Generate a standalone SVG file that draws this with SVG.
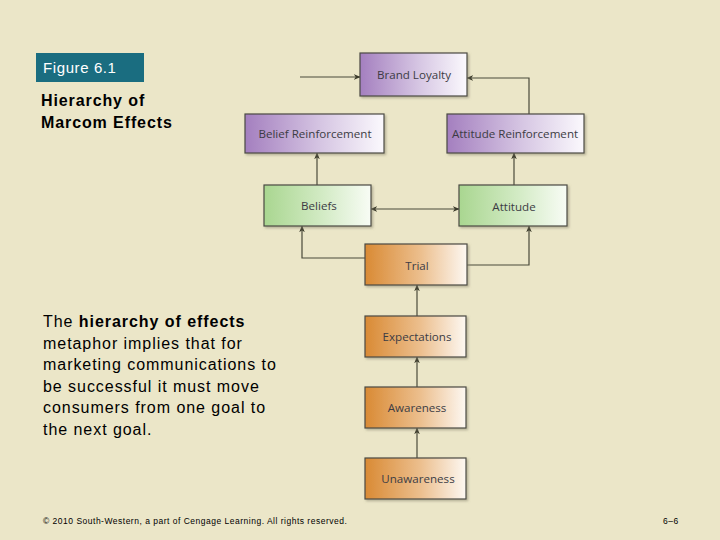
<svg xmlns="http://www.w3.org/2000/svg" width="720" height="540" viewBox="0 0 720 540">
<style>
.bx{stroke:#4a4a44;stroke-width:1.2}
.lb{font-family:"Open Sans","DejaVu Sans",sans-serif;font-size:11.6px;fill:#3c3c44;text-anchor:middle}
.ln{fill:none;stroke:#4a4a3a;stroke-width:1.2}
.t{font-family:"Liberation Sans",Arial,sans-serif;fill:#000}
</style>
<defs>
<linearGradient id="gp" x1="0" x2="1" y1="0" y2="0"><stop offset="0" stop-color="#a47fbf"/><stop offset="0.55" stop-color="#d6c6e3"/><stop offset="1" stop-color="#fbf9fd"/></linearGradient>
<linearGradient id="gg" x1="0" x2="1" y1="0" y2="0"><stop offset="0" stop-color="#a9d690"/><stop offset="0.55" stop-color="#d3ebc5"/><stop offset="1" stop-color="#f8fcf5"/></linearGradient>
<linearGradient id="go" x1="0" x2="1" y1="0" y2="0"><stop offset="0" stop-color="#d98a34"/><stop offset="0.55" stop-color="#ecbf8e"/><stop offset="1" stop-color="#fdf8f2"/></linearGradient>
<filter id="sh" x="-10%" y="-10%" width="130%" height="140%"><feDropShadow dx="1.5" dy="1.5" stdDeviation="1" flood-color="#8a8670" flood-opacity="0.6"/></filter>
<marker id="ar" viewBox="0 0 10 10" refX="9" refY="5" markerWidth="7" markerHeight="7" orient="auto-start-reverse" markerUnits="userSpaceOnUse"><path d="M0,1 L10,5 L0,9 L3,5 Z" fill="#3a3a2a"/></marker>
</defs>
<rect width="720" height="540" fill="#ebe6c8"/>
<g id="title">
<rect x="36" y="53" width="108" height="29" fill="#1a6d80"/>
<text class="t" x="43" y="73" font-size="15" letter-spacing="0.6" style="fill:#fff">Figure 6.1</text>
<text class="t" x="41" y="106" font-size="16" font-weight="bold" letter-spacing="0.9">Hierarchy of</text>
<text class="t" x="41" y="128" font-size="16" font-weight="bold" letter-spacing="0.9">Marcom Effects</text>
</g>
<g id="body">
<text class="t" font-size="16" letter-spacing="0.95">
<tspan x="43" y="327">The <tspan font-weight="bold">hierarchy of effects</tspan></tspan>
<tspan x="43" y="348.6">metaphor implies that for</tspan>
<tspan x="43" y="370.2">marketing communications to</tspan>
<tspan x="43" y="391.8">be successful it must move</tspan>
<tspan x="43" y="413.4">consumers from one goal to</tspan>
<tspan x="43" y="435">the next goal.</tspan>
</text>
</g>
<g id="connectors">
<path class="ln" d="M300,77 H360" marker-end="url(#ar)"/>
<path class="ln" d="M529,114 V78 H467" marker-end="url(#ar)"/>
<path class="ln" d="M317,185 V153" marker-end="url(#ar)"/>
<path class="ln" d="M514,185 V153" marker-end="url(#ar)"/>
<path class="ln" d="M371,209 H459" marker-start="url(#ar)" marker-end="url(#ar)"/>
<path class="ln" d="M365,258 H302 V226" marker-end="url(#ar)"/>
<path class="ln" d="M467,265 H529 V226" marker-end="url(#ar)"/>
<path class="ln" d="M417,316 V285" marker-end="url(#ar)"/>
<path class="ln" d="M417,387 V357" marker-end="url(#ar)"/>
<path class="ln" d="M417,458 V428" marker-end="url(#ar)"/>
</g>
<g id="brand-loyalty"><rect class="bx" x="360" y="53" width="107" height="43" fill="url(#gp)" filter="url(#sh)"/><text class="lb" x="414" y="79">Brand Loyalty</text></g>
<g id="belief-reinforcement"><rect class="bx" x="245" y="114" width="139" height="39" fill="url(#gp)" filter="url(#sh)"/><text class="lb" x="315" y="138">Belief Reinforcement</text></g>
<g id="attitude-reinforcement"><rect class="bx" x="447" y="114" width="137" height="39" fill="url(#gp)" filter="url(#sh)"/><text class="lb" x="515" y="138">Attitude Reinforcement</text></g>
<g id="beliefs"><rect class="bx" x="264" y="185" width="107" height="41" fill="url(#gg)" filter="url(#sh)"/><text class="lb" x="319" y="210">Beliefs</text></g>
<g id="attitude"><rect class="bx" x="459" y="185" width="108" height="41" fill="url(#gg)" filter="url(#sh)"/><text class="lb" x="514" y="211">Attitude</text></g>
<g id="trial"><rect class="bx" x="365" y="244" width="102" height="41" fill="url(#go)" filter="url(#sh)"/><text class="lb" x="417" y="270">Trial</text></g>
<g id="expectations"><rect class="bx" x="365" y="316" width="101" height="41" fill="url(#go)" filter="url(#sh)"/><text class="lb" x="417" y="341">Expectations</text></g>
<g id="awareness"><rect class="bx" x="365" y="387" width="101" height="41" fill="url(#go)" filter="url(#sh)"/><text class="lb" x="417" y="412">Awareness</text></g>
<g id="unawareness"><rect class="bx" x="365" y="458" width="101" height="41" fill="url(#go)" filter="url(#sh)"/><text class="lb" x="418" y="483">Unawareness</text></g>
<g id="footer">
<text class="t" x="43" y="524" font-size="8.5" letter-spacing="0.5">© 2010 South-Western, a part of Cengage Learning. All rights reserved.</text>
<text class="t" x="663" y="524" font-size="8.5" letter-spacing="0.5">6–6</text>
</g>
</svg>
